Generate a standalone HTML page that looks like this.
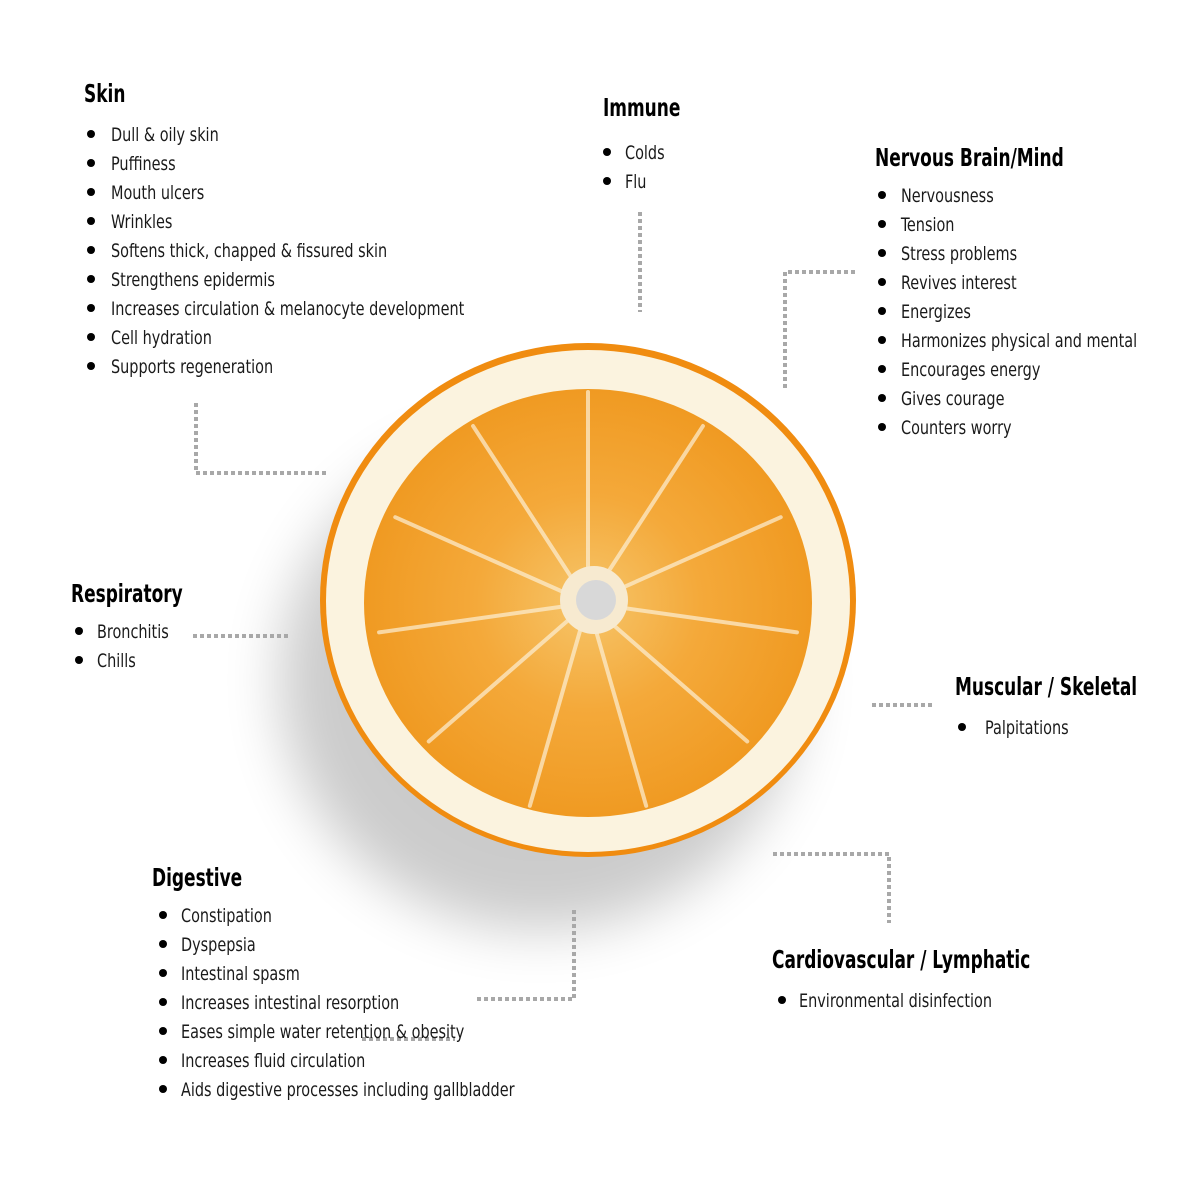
<!DOCTYPE html>
<html><head><meta charset="utf-8"><style>
html,body{margin:0;padding:0;background:#fff;}
svg{display:block}
text{font-family:"Liberation Sans Narrow","DejaVu Sans Condensed","Liberation Sans",sans-serif;fill:#1a1a1a;transform-box:fill-box;transform-origin:0 50%;}
.h{font-weight:bold;font-size:25px;fill:#000;transform:scaleX(0.755)}
.i{font-size:19px;transform:scaleX(0.845)}
.c{stroke:#a8a8a8;stroke-width:4;stroke-dasharray:4 3;fill:none}
</style></head><body>
<svg width="1200" height="1200" viewBox="0 0 1200 1200" xmlns="http://www.w3.org/2000/svg">
<defs>
<filter id="sh" x="-50%" y="-50%" width="200%" height="200%"><feGaussianBlur stdDeviation="28"/></filter>
<radialGradient id="fl" cx="50%" cy="50%" r="50%">
<stop offset="0" stop-color="#f6c56a"/><stop offset="0.5" stop-color="#f4a93a"/><stop offset="1" stop-color="#f09a22"/></radialGradient>
</defs>
<ellipse cx="540" cy="680" rx="260" ry="250" fill="#000" opacity="0.2" filter="url(#sh)"/>
<ellipse cx="588" cy="600" rx="268" ry="257" fill="#f08c10"/>
<ellipse cx="588" cy="601" rx="262" ry="251" fill="#fbf3df"/>
<ellipse cx="588" cy="603" rx="224" ry="214" fill="url(#fl)"/>
<g stroke="#fdf0d6" stroke-width="4" stroke-linecap="round" opacity="0.7">
<line x1="588" y1="603" x2="588" y2="392" transform="rotate(0 588 603)"/>
<line x1="588" y1="603" x2="588" y2="392" transform="rotate(33 588 603)"/>
<line x1="588" y1="603" x2="588" y2="392" transform="rotate(66 588 603)"/>
<line x1="588" y1="603" x2="588" y2="392" transform="rotate(98 588 603)"/>
<line x1="588" y1="603" x2="588" y2="392" transform="rotate(131 588 603)"/>
<line x1="588" y1="603" x2="588" y2="392" transform="rotate(164 588 603)"/>
<line x1="588" y1="603" x2="588" y2="392" transform="rotate(196 588 603)"/>
<line x1="588" y1="603" x2="588" y2="392" transform="rotate(229 588 603)"/>
<line x1="588" y1="603" x2="588" y2="392" transform="rotate(262 588 603)"/>
<line x1="588" y1="603" x2="588" y2="392" transform="rotate(294 588 603)"/>
<line x1="588" y1="603" x2="588" y2="392" transform="rotate(327 588 603)"/>
</g>
<circle cx="594" cy="600" r="34" fill="#f7ead0"/>
<circle cx="596" cy="600" r="20" fill="#d8d8d8"/>

<path class="c" d="M196 403 V473 H326"/>
<path class="c" d="M640 212 V312"/>
<path class="c" d="M855 272 H785 V390"/>
<path class="c" d="M193 636 H291"/>
<path class="c" d="M872 705 H932"/>
<path class="c" d="M773 854 H889 V923"/>
<path class="c" d="M574 910 V999 H477"/>
<path class="c" d="M362 1039 H455"/>

<text class="h" x="84" y="102">Skin</text>
<g fill="#000">
<circle cx="91" cy="134" r="4"/><circle cx="91" cy="163" r="4"/><circle cx="91" cy="192" r="4"/><circle cx="91" cy="221" r="4"/><circle cx="91" cy="250" r="4"/><circle cx="91" cy="279" r="4"/><circle cx="91" cy="308" r="4"/><circle cx="91" cy="337" r="4"/><circle cx="91" cy="366" r="4"/>
</g>
<text class="i" x="111" y="141">Dull &amp; oily skin</text>
<text class="i" x="111" y="170">Puffiness</text>
<text class="i" x="111" y="199">Mouth ulcers</text>
<text class="i" x="111" y="228">Wrinkles</text>
<text class="i" x="111" y="257">Softens thick, chapped &amp; fissured skin</text>
<text class="i" x="111" y="286">Strengthens epidermis</text>
<text class="i" x="111" y="315">Increases circulation &amp; melanocyte development</text>
<text class="i" x="111" y="344">Cell hydration</text>
<text class="i" x="111" y="373">Supports regeneration</text>

<text class="h" x="603" y="116">Immune</text>
<circle cx="607" cy="152" r="4"/><circle cx="607" cy="181" r="4"/>
<text class="i" x="625" y="159">Colds</text>
<text class="i" x="625" y="188">Flu</text>

<text class="h" x="875" y="166">Nervous Brain/Mind</text>
<g>
<circle cx="882" cy="195" r="4"/><circle cx="882" cy="224" r="4"/><circle cx="882" cy="253" r="4"/><circle cx="882" cy="282" r="4"/><circle cx="882" cy="311" r="4"/><circle cx="882" cy="340" r="4"/><circle cx="882" cy="369" r="4"/><circle cx="882" cy="398" r="4"/><circle cx="882" cy="427" r="4"/>
</g>
<text class="i" x="901" y="202">Nervousness</text>
<text class="i" x="901" y="231">Tension</text>
<text class="i" x="901" y="260">Stress problems</text>
<text class="i" x="901" y="289">Revives interest</text>
<text class="i" x="901" y="318">Energizes</text>
<text class="i" x="901" y="347">Harmonizes physical and mental</text>
<text class="i" x="901" y="376">Encourages energy</text>
<text class="i" x="901" y="405">Gives courage</text>
<text class="i" x="901" y="434">Counters worry</text>

<text class="h" x="71" y="602">Respiratory</text>
<circle cx="79" cy="631" r="4"/><circle cx="79" cy="660" r="4"/>
<text class="i" x="97" y="638">Bronchitis</text>
<text class="i" x="97" y="667">Chills</text>

<text class="h" x="955" y="695">Muscular / Skeletal</text>
<circle cx="962" cy="727" r="4"/>
<text class="i" x="985" y="734">Palpitations</text>

<text class="h" x="152" y="886">Digestive</text>
<g>
<circle cx="163" cy="915" r="4"/><circle cx="163" cy="944" r="4"/><circle cx="163" cy="973" r="4"/><circle cx="163" cy="1002" r="4"/><circle cx="163" cy="1031" r="4"/><circle cx="163" cy="1060" r="4"/><circle cx="163" cy="1089" r="4"/>
</g>
<text class="i" x="181" y="922">Constipation</text>
<text class="i" x="181" y="951">Dyspepsia</text>
<text class="i" x="181" y="980">Intestinal spasm</text>
<text class="i" x="181" y="1009">Increases intestinal resorption</text>
<text class="i" x="181" y="1038">Eases simple water retention &amp; obesity</text>
<text class="i" x="181" y="1067">Increases fluid circulation</text>
<text class="i" x="181" y="1096">Aids digestive processes including gallbladder</text>

<text class="h" x="772" y="968">Cardiovascular / Lymphatic</text>
<circle cx="782" cy="1000" r="4"/>
<text class="i" x="799" y="1007">Environmental disinfection</text>
</svg>
</body></html>
